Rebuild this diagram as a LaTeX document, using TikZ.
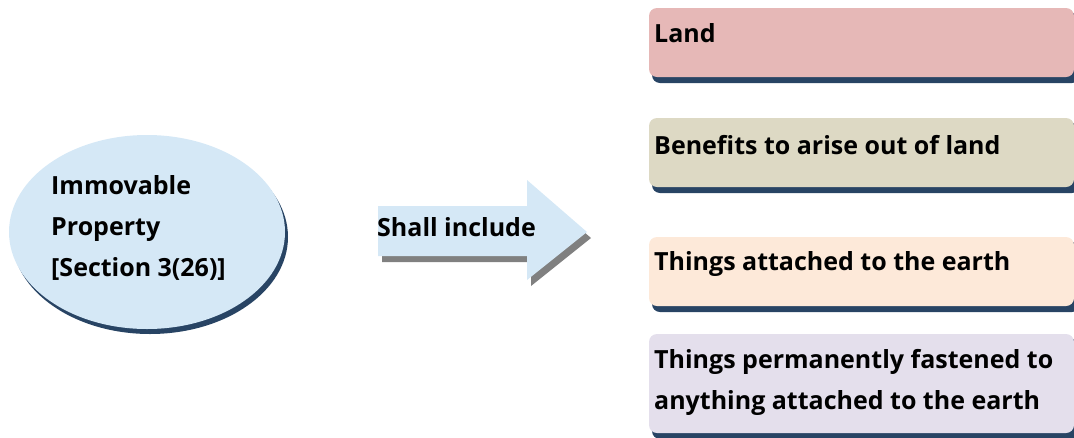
\documentclass[tikz,border=0pt]{standalone}
\usepackage{fontspec}
\setmainfont{Open Sans}
\usetikzlibrary{positioning}
\definecolor{shadowblue}{HTML}{284464}
\definecolor{ellfill}{HTML}{D5E8F6}
\definecolor{arrfill}{HTML}{D5E8F6}
\definecolor{arrshadow}{HTML}{808080}
\definecolor{cA}{HTML}{E6B8B7}
\definecolor{cB}{HTML}{DDD9C4}
\definecolor{cC}{HTML}{FDE9D9}
\definecolor{cD}{HTML}{E4DFEC}
\tikzset{
  lbl/.style={font=\bfseries\fontsize{25}{41}\selectfont, text=black, inner sep=0pt, anchor=west, align=left},
  boxshape/.style={rounded corners=8},
}
\begin{document}
\begin{tikzpicture}[x=1pt,y=-1pt]
\useasboundingbox (0,0) rectangle (1074,437);
% ellipse
\fill[shadowblue] (150,237) ellipse [x radius=138, y radius=97];
\fill[ellfill] (147,232) ellipse [x radius=138, y radius=97];
\node[lbl] (ip) at (51,228) {Immovable\\Property\\{[Section 3(26)]}};
% arrow
\fill[arrshadow] (382,212) -- (531,212) -- (531,186) -- (591,238) -- (531,286) -- (531,262) -- (382,262) -- cycle;
\fill[arrfill] (378,206) -- (527,206) -- (527,180) -- (587,232) -- (527,280) -- (527,256) -- (378,256) -- cycle;
\node[lbl] (si) at (377,227) {Shall include};
% boxes
\fill[shadowblue, boxshape] (652,13) rectangle (1080,83);
\fill[cA, boxshape] (649,8) rectangle (1074,77);
\node[lbl] (b1) at (654,33) {Land};
\fill[shadowblue, boxshape] (652,123) rectangle (1080,193);
\fill[cB, boxshape] (649,118) rectangle (1074,187);
\node[lbl] (b2) at (654,145) {Benefits to arise out of land};
\fill[shadowblue, boxshape] (652,242) rectangle (1080,312);
\fill[cC, boxshape] (649,237) rectangle (1074,306);
\node[lbl] (b3) at (654,264) {Things attached to the earth};
\fill[shadowblue, boxshape] (652,339) rectangle (1080,439);
\fill[cD, boxshape] (649,334) rectangle (1074,433);
\node[lbl] (b4) at (654,382) {Things permanently fastened to\\anything attached to the earth};
\end{tikzpicture}
\end{document}
